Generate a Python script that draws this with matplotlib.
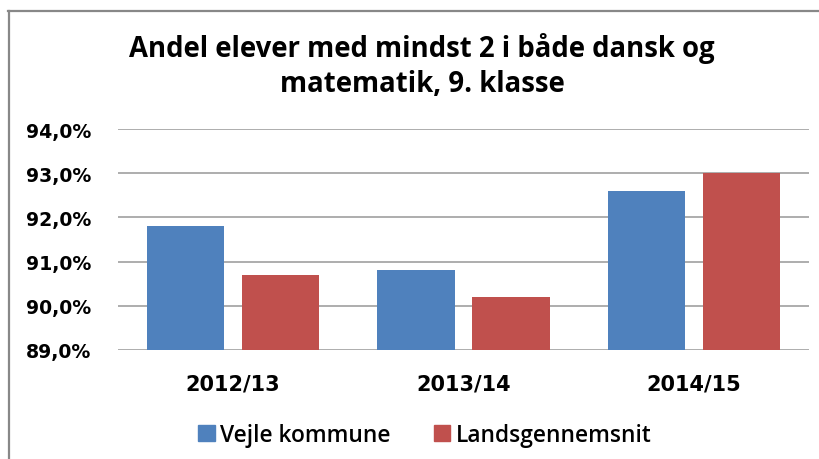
import matplotlib

matplotlib.use("Agg")
import matplotlib.pyplot as plt
from matplotlib.lines import Line2D
from matplotlib.patches import Patch
import numpy as np

TITLE = "Andel elever med mindst 2 i både dansk og\nmatematik, 9. klasse"
YEARS = ["2012/13", "2013/14", "2014/15"]
VEJLE = [91.8, 90.8, 92.6]
LANDS = [90.7, 90.2, 93.0]
SERIES = ["Vejle kommune", "Landsgennemsnit"]
YTICKS = [89, 90, 91, 92, 93, 94]

BLUE = "#4F81BD"
RED = "#C0504D"
W, H = 820, 460

fig = plt.figure(figsize=(W / 100, H / 100), dpi=100)
ax = fig.add_axes([118 / W, 1 - 351 / H, (809 - 118) / W, (351 - 130) / H])

x = np.arange(len(YEARS))
bw = 0.335
off = (bw + 0.078) / 2
ax.bar(x - off, np.array(VEJLE) - 89, bw, bottom=89, color=BLUE, zorder=3)
ax.bar(x + off, np.array(LANDS) - 89, bw, bottom=89, color=RED, zorder=3)

ax.set_xlim(-0.5, len(YEARS) - 0.5)
ax.set_ylim(89, 94)
ax.set_yticks(YTICKS)
ax.set_yticklabels([f"{v:.1f}%".replace(".", ",") for v in YTICKS],
                   fontsize=13.6, fontweight="bold", family="DejaVu Sans")
ax.set_xticks(x)
ax.set_xticklabels(YEARS, fontsize=15, fontweight="bold", family="DejaVu Sans")
ax.tick_params(length=0)
ax.tick_params(axis="y", pad=19)
ax.tick_params(axis="x", pad=17)
ax.grid(axis="y", color="#A0A0A0", lw=1.2, zorder=0)
for s in ax.spines.values():
    s.set_visible(False)

fig.text(422 / W, 1 - 66 / H, TITLE, ha="center", va="center", fontsize=19.8,
         fontweight="bold", family="Open Sans", linespacing=1.27)

handles = [Patch(color=BLUE), Patch(color=RED)]
fig.legend(handles, SERIES, loc="center", bbox_to_anchor=(425 / W, 1 - 436 / H),
           ncol=2, frameon=False, handlelength=0.72, handleheight=0.72,
           handletextpad=0.25, columnspacing=1.9,
           prop={"family": "Open Sans", "size": 16.4, "weight": "semibold"})

# chart frame (top and left edges visible)
fig.add_artist(Line2D([8 / W, 1], [1 - 12 / H, 1 - 12 / H], color="#888888", lw=1.6))
fig.add_artist(Line2D([9 / W, 9 / W], [0, 1 - 12 / H], color="#888888", lw=1.6))

fig.savefig("out.png", dpi=100)
